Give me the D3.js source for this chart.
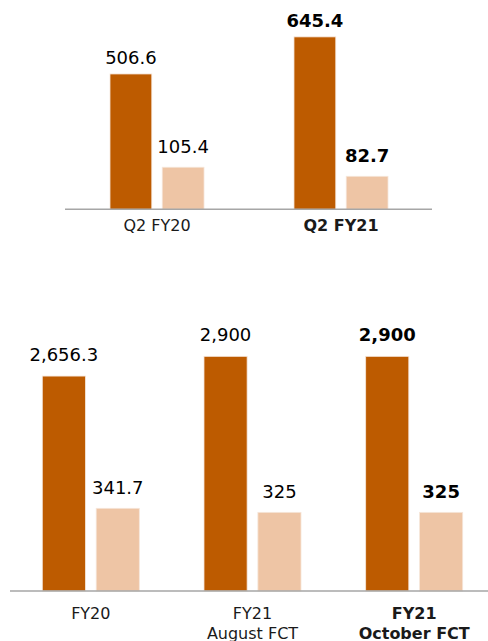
<!DOCTYPE html>
<html>
<head>
<meta charset="utf-8">
<script src="https://cdn.jsdelivr.net/npm/d3@7"></script>
<style>
  body { margin: 0; background: #fff; }
  svg { display: block; }
</style>
</head>
<body>
<div id="chart"></div>
<script>
// Quarter panel
const quarterCategories = [ 'Q2 FY20', 'Q2 FY21' ];
const quarterDark = [ 506.6, 645.4 ];
const quarterLight = [ 105.4, 82.7 ];
const quarterDarkLabels = [ '506.6', '645.4' ];
const quarterLightLabels = [ '105.4', '82.7' ];

// Full year panel
const yearCategories = [ [ 'FY20' ], [ 'FY21', 'August FCT' ], [ 'FY21', 'October FCT' ] ];
const yearDark = [ 2656.3, 2900, 2900 ];
const yearLight = [ 341.7, 325, 325 ];
const yearDarkLabels = [ '2,656.3', '2,900', '2,900' ];
const yearLightLabels = [ '341.7', '325', '325' ];

const darkColor = '#bd5b00';
const lightColor = '#eec5a5';
const fontFamily = '"DejaVu Sans", Verdana, sans-serif';

const svg = d3.select( '#chart' )
  .append( 'svg' )
    .attr( 'width', 488 )
    .attr( 'height', 641 );

function drawPanel( opts ) {
  const n = opts.categories.length;
  const boldIndex = n - 1;

  const x = d3.scaleBand()
    .domain( d3.range( n ) )
    .range( opts.xRange )
    .paddingInner( opts.padding )
    .paddingOuter( 0 );

  const xSub = d3.scaleBand()
    .domain( [ 'dark', 'light' ] )
    .range( [ 0, x.bandwidth() ] )
    .paddingInner( 0.2 );

  const yDark = d3.scaleLinear().domain( opts.darkDomain ).range( [ opts.baseY, opts.darkTop ] );
  const yLight = d3.scaleLinear().domain( opts.lightDomain ).range( [ opts.baseY, opts.lightTop ] );

  const rows = d3.range( n ).map( i => ( [
    { i: i, key: 'dark', value: opts.dark[ i ], label: opts.darkLabels[ i ], y: yDark, color: darkColor, off: opts.darkOffset },
    { i: i, key: 'light', value: opts.light[ i ], label: opts.lightLabels[ i ], y: yLight, color: lightColor, off: opts.lightOffset }
  ] ) ).flat();

  const g = svg.append( 'g' );

  g.selectAll( 'rect' )
    .data( rows )
    .enter()
    .append( 'rect' )
      .attr( 'x', d => x( d.i ) + xSub( d.key ) )
      .attr( 'y', d => d.y( d.value ) )
      .attr( 'width', xSub.bandwidth() )
      .attr( 'height', d => opts.baseY - d.y( d.value ) )
      .attr( 'fill', d => d.color )
      .attr( 'stroke', '#f6e6da' )
      .attr( 'stroke-width', 0.8 );

  g.selectAll( 'text.val' )
    .data( rows )
    .enter()
    .append( 'text' )
      .attr( 'class', 'val' )
      .attr( 'x', d => x( d.i ) + xSub( d.key ) + xSub.bandwidth() / 2 )
      .attr( 'y', d => d.y( d.value ) - d.off )
      .attr( 'text-anchor', 'middle' )
      .attr( 'fill', '#000' )
      .style( 'font-family', fontFamily )
      .style( 'font-size', '18px' )
      .style( 'font-weight', d => d.i === boldIndex ? 'bold' : 'normal' )
      .text( d => d.label );

  // baseline
  g.append( 'line' )
    .attr( 'x1', opts.axisRange[ 0 ] )
    .attr( 'x2', opts.axisRange[ 1 ] )
    .attr( 'y1', opts.baseY )
    .attr( 'y2', opts.baseY )
    .attr( 'stroke', '#a6a6a6' )
    .attr( 'stroke-width', 1.5 );

  // category labels
  const cat = g.selectAll( 'text.cat' )
    .data( opts.categories )
    .enter()
    .append( 'text' )
      .attr( 'class', 'cat' )
      .attr( 'x', ( d, i ) => x( i ) + x.bandwidth() / 2 )
      .attr( 'y', opts.baseY + opts.catOffset )
      .attr( 'text-anchor', 'middle' )
      .attr( 'fill', '#1a1a1a' )
      .style( 'font-family', fontFamily )
      .style( 'font-size', '16px' )
      .style( 'font-weight', ( d, i ) => i === boldIndex ? 'bold' : 'normal' );

  cat.selectAll( 'tspan' )
    .data( d => Array.isArray( d ) ? d : [ d ] )
    .enter()
    .append( 'tspan' )
      .attr( 'x', function() { return d3.select( this.parentNode ).attr( 'x' ); } )
      .attr( 'dy', ( d, i ) => i === 0 ? 0 : 20 )
      .text( d => d );
}

drawPanel( {
  categories: quarterCategories,
  dark: quarterDark, light: quarterLight,
  darkLabels: quarterDarkLabels, lightLabels: quarterLightLabels,
  xRange: [ 110, 388 ], padding: 0.489,
  axisRange: [ 65, 432 ],
  baseY: 209.3,
  darkDomain: [ 0, 700 ], darkTop: 22.3,
  lightDomain: [ 0, 450 ], lightTop: 29.7,
  darkOffset: 10, lightOffset: 14,
  catOffset: 22
} );

drawPanel( {
  categories: yearCategories,
  dark: yearDark, light: yearLight,
  darkLabels: yearDarkLabels, lightLabels: yearLightLabels,
  xRange: [ 42.3, 462.7 ], padding: 0.4,
  axisRange: [ 10, 488 ],
  baseY: 591,
  darkDomain: [ 0, 3500 ], darkTop: 307.8,
  lightDomain: [ 0, 1000 ], lightTop: 349,
  darkOffset: 15, lightOffset: 14.6,
  catOffset: 27.5
} );
</script>
</body>
</html>
